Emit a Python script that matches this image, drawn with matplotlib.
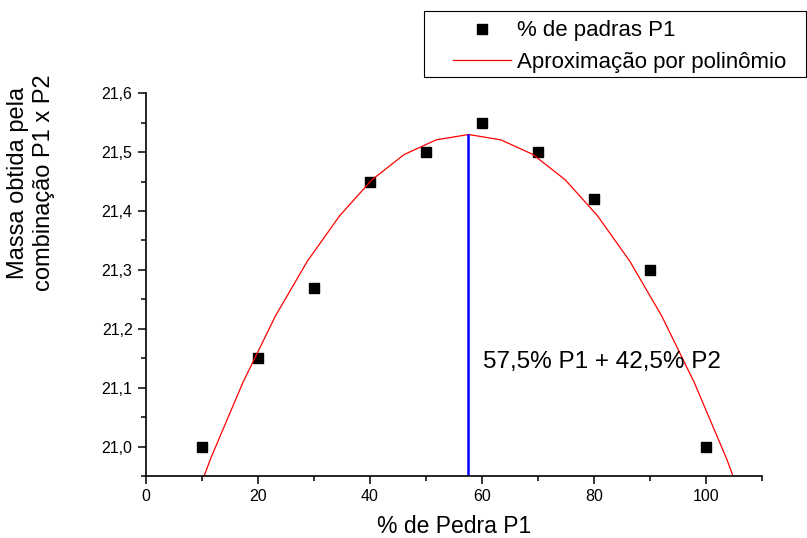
import matplotlib
matplotlib.use("Agg")
import matplotlib.pyplot as plt
from matplotlib.patches import Rectangle
from matplotlib.ticker import MultipleLocator, FuncFormatter

plt.rcParams["font.family"] = ["Liberation Sans", "DejaVu Sans"]

# measured points (% of stone P1 vs mass)
pct_p1 = [10, 20, 30, 40, 50, 60, 70, 80, 90, 100]
massa = [21.00, 21.15, 21.27, 21.45, 21.50, 21.55, 21.50, 21.42, 21.30, 21.00]

# polynomial fit curve, vertices
fit_x = [5.85, 11.6, 17.35, 23.1, 28.85, 34.6, 40.35, 46.1, 51.85, 57.6,
         63.35, 69.1, 74.85, 80.6, 86.35, 92.1, 97.85, 103.6, 109.35]
fit_y = [20.834, 20.980, 21.109, 21.221, 21.315, 21.392, 21.453, 21.496, 21.521, 21.530,
         21.521, 21.496, 21.453, 21.392, 21.315, 21.221, 21.109, 20.980, 20.834]

# optimum marker
x_opt = 57.5
y_opt = 21.53
anot = "57,5% P1 + 42,5% P2"

fig = plt.figure(figsize=(8.07, 5.38), dpi=100)
ax = fig.add_axes([145.7 / 807, 1 - 476 / 538, (762.3 - 145.7) / 807, (476 - 93.3) / 538])

ax.plot(pct_p1, massa, "s", color="black", ms=6.5, label="% de padras P1")
ax.plot(fit_x, fit_y, color="red", lw=0.9, label="Aproximação por polinômio")
ax.plot([x_opt, x_opt], [20.95, y_opt], color="blue", lw=1.8)
ax.text(60.2, 21.143, anot, fontsize=17.5, va="center", ha="left")

ax.set_xlim(0, 110)
ax.set_ylim(20.95, 21.6)
ax.xaxis.set_major_locator(MultipleLocator(20))
ax.xaxis.set_minor_locator(MultipleLocator(10))
ax.yaxis.set_major_locator(MultipleLocator(0.1))
ax.yaxis.set_minor_locator(MultipleLocator(0.05))
ax.yaxis.set_major_formatter(FuncFormatter(lambda v, p: f"{v:.1f}".replace(".", ",")))

ax.spines[["top", "right"]].set_visible(False)
for s in ["left", "bottom"]:
    ax.spines[s].set_linewidth(1.2)
ax.tick_params(which="major", direction="out", length=5.5, width=1.1, labelsize=11.5, pad=4)
ax.tick_params(which="minor", direction="out", length=3.5, width=1.1)

ax.set_xlabel("% de Pedra P1", fontsize=16.5, labelpad=8)
fig.text(31 / 807, 1 - 183 / 538, "Massa obtida pela\ncombinação P1 x P2",
         rotation=90, ha="center", va="center", fontsize=17, linespacing=1.25,
         multialignment="center")

leg = fig.legend(loc="upper left", bbox_to_anchor=(453 / 807, 0.962),
                 frameon=False, fontsize=16, numpoints=1, handlelength=2.6,
                 handletextpad=0.27, labelspacing=0.47, borderpad=0, borderaxespad=0)
fig.add_artist(Rectangle((424 / 807, 1 - 77 / 538), (806 - 424) / 807, 66 / 538,
                         transform=fig.transFigure, fill=False, ec="black", lw=0.8))

fig.savefig("out.png", dpi=100)
